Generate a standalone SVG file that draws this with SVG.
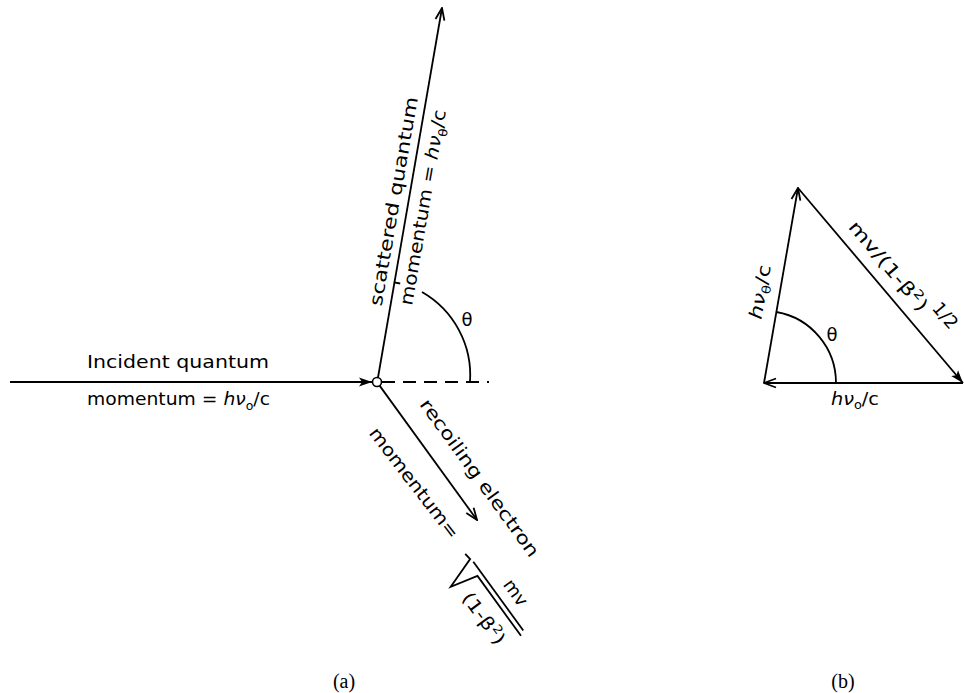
<svg xmlns="http://www.w3.org/2000/svg" width="964" height="693" viewBox="0 0 964 693">
<defs>
<marker id="fill" markerUnits="userSpaceOnUse" markerWidth="14" markerHeight="10" refX="13" refY="5" orient="auto" viewBox="0 0 14 10">
<path d="M0,0.5 L13,5 L0,9.5 L3,5 Z" fill="#000"/>
</marker>
<marker id="open" markerUnits="userSpaceOnUse" markerWidth="14" markerHeight="12" refX="13" refY="6" orient="auto" viewBox="0 0 14 12">
<path d="M1,1.5 L13,6 L1,10.5" fill="none" stroke="#000" stroke-width="1.8"/>
</marker>
</defs>
<style>
.ln{stroke:#000;stroke-width:1.8;fill:none}
.t{font-family:"DejaVu Sans",sans-serif;font-size:18px;fill:#000}
.s{font-size:12px}
.cap{font-family:"Liberation Serif",serif;font-size:20px;fill:#000}
</style>
<rect width="964" height="693" fill="#fff"/>

<g id="connectors">
<line class="ln" x1="10" y1="382" x2="372" y2="382" stroke-width="2.2" marker-end="url(#fill)"/>
<line class="ln" x1="378" y1="377.5" x2="442" y2="8" stroke-width="1.6" marker-end="url(#open)"/>
<line class="ln" x1="379.6" y1="385.6" x2="477" y2="520" marker-end="url(#open)"/>
<line class="ln" x1="382" y1="382" x2="489" y2="382" stroke-width="2" stroke-dasharray="13 8"/>
<path class="ln" d="M470,382 A96,96 0 0 0 422,292"/>
<path class="ln" d="M393.8,282.4 L400.2,283.5" stroke-width="1.4"/>
<line class="ln" x1="764" y1="383" x2="798" y2="188" marker-end="url(#open)"/>
<line class="ln" x1="798" y1="188" x2="963" y2="383" marker-end="url(#fill)"/>
<line class="ln" x1="963" y1="383" x2="764" y2="383" marker-end="url(#open)"/>
<path class="ln" d="M836,383 A72,72 0 0 0 776.4,312"/>
</g>

<g id="collision">
<circle cx="377" cy="382" r="4.5" fill="#fff" stroke="#000" stroke-width="1.6"/>
</g>

<g id="incident-label">
<text class="t" x="87" y="368" textLength="182" lengthAdjust="spacingAndGlyphs">Incident quantum</text>
<text class="t" x="87" y="405" textLength="183" lengthAdjust="spacingAndGlyphs">momentum = <tspan font-style="italic">hν</tspan><tspan class="s" dy="5">o</tspan><tspan dy="-5">/c</tspan></text>
</g>

<g id="scattered-label">
<text class="t" transform="translate(381.5,306.7) rotate(-80.1)" textLength="212" lengthAdjust="spacingAndGlyphs">scattered quantum</text>
<text class="t" transform="translate(412,305.9) rotate(-80.1)" textLength="198" lengthAdjust="spacingAndGlyphs">momentum = <tspan font-style="italic">hν</tspan><tspan class="s" dy="5">θ</tspan><tspan dy="-5">/c</tspan></text>
<text class="t" x="467" y="326" text-anchor="middle" font-size="19">θ</text>
</g>

<g id="electron-label">
<text class="t" transform="translate(419,404.5) rotate(54.2)" textLength="190" lengthAdjust="spacingAndGlyphs">recoiling electron</text>
<text class="t" transform="translate(368.2,433.2) rotate(52.5)" textLength="135" lengthAdjust="spacingAndGlyphs">momentum=</text>
<g transform="translate(473.3,561.7) rotate(54)">
<path class="ln" d="M0,0 L85,0" stroke-width="1.6"/>
<path class="ln" d="M-11,2 L-4,1 L7,33 L14,5 L88,5" stroke-width="1.6"/>
<text class="t" x="50" y="-10" text-anchor="middle">mv</text>
<text class="t" x="52" y="31" text-anchor="middle" textLength="60" lengthAdjust="spacingAndGlyphs">(1-β<tspan class="s" dy="-7">2</tspan><tspan dy="7">)</tspan></text>
</g>
</g>

<g id="triangle-labels">
<text class="t" transform="translate(766,293) rotate(-80.1)" text-anchor="middle" font-size="17" textLength="55" lengthAdjust="spacingAndGlyphs"><tspan font-style="italic">hν</tspan><tspan class="s" dy="4">θ</tspan><tspan dy="-4">/c</tspan></text>
<text class="t" transform="translate(847.6,227.3) rotate(49.8)" font-size="17" textLength="112" lengthAdjust="spacingAndGlyphs">mv/(1-β<tspan class="s" dy="-7">2</tspan><tspan dy="7">)</tspan></text>
<text class="t" transform="translate(931.3,308.4) rotate(49.8)" font-size="14">1/2</text>
<text class="t" x="832" y="341" text-anchor="middle" font-size="18">θ</text>
<text class="t" x="855" y="405" text-anchor="middle" font-size="17" textLength="48" lengthAdjust="spacingAndGlyphs"><tspan font-style="italic">hν</tspan><tspan class="s" dy="4">o</tspan><tspan dy="-4">/c</tspan></text>
</g>

<g id="captions">
<text class="cap" x="344" y="688" text-anchor="middle">(a)</text>
<text class="cap" x="843" y="688" text-anchor="middle">(b)</text>
</g>
</svg>
